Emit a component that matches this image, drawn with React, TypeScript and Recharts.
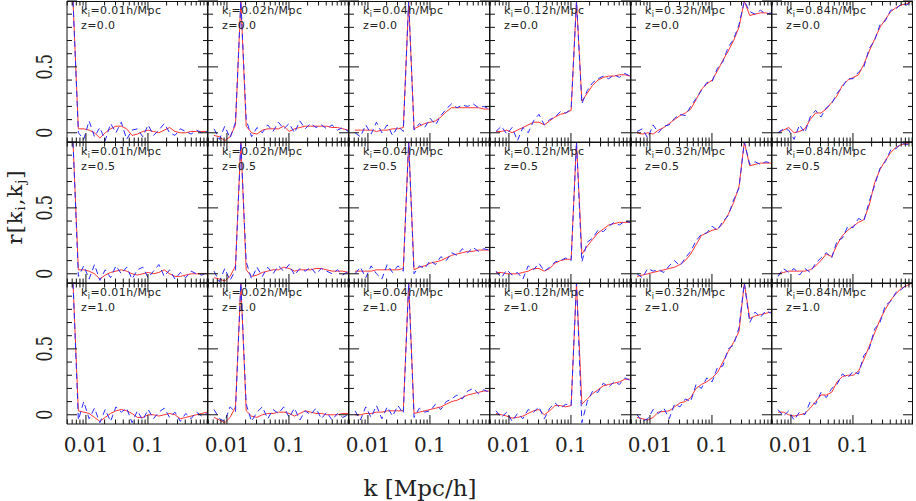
import React from 'react';
import { LineChart, Line, XAxis, YAxis } from 'recharts';

// k grid (h/Mpc), shared by all panels
const K = [0.00619, 0.00755, 0.00922, 0.01125, 0.01373, 0.01676, 0.02045, 0.02496, 0.03047, 0.03719, 0.04539, 0.0554, 0.0676, 0.0825, 0.1007, 0.1229, 0.150, 0.183, 0.2235, 0.2728, 0.333, 0.4064, 0.496, 0.6054, 0.739, 0.902];

const KI_LABELS = ['0.01', '0.02', '0.04', '0.12', '0.32', '0.84'];
const Z_LABELS = ['0.0', '0.5', '1.0'];

const X_TICKS = [0.005, 0.006, 0.007, 0.008, 0.009, 0.01, 0.02, 0.03, 0.04, 0.05, 0.06, 0.07, 0.08, 0.09, 0.1, 0.2, 0.3, 0.4, 0.5, 0.6, 0.7, 0.8, 0.9];
const X_MAJOR = [0.01, 0.1];
const X_TICK_LABELS = ['0.01', '0.1'];
const Y_TICKS = [0, 0.1, 0.2, 0.3, 0.4, 0.5, 0.6, 0.7, 0.8, 0.9, 1.0];
const Y_MAJOR = [0, 0.5, 1.0];
const Y_TICK_LABELS = ['0', '0.5'];

// z = 0.0
const red_z0_1 = [1.0, 0.03, 0.03, 0.02, 0.0, -0.04, 0.0, 0.03, 0.05, 0.05, 0.03, -0.02, -0.01, 0.01, 0.02, 0.01, 0.0, 0.02, 0.04, 0.01, 0.0, 0.0, 0.01, 0.01, 0.01, 0.01];
const blue_z0_1 = [1.0, 0.0, -0.05, 0.09, -0.03, 0.04, -0.06, 0.07, 0.0, 0.08, -0.05, 0.02, 0.03, -0.03, 0.06, -0.02, 0.02, 0.07, 0.0, -0.02, 0.03, 0.01, -0.01, 0.02, 0.0, 0.01];
const red_z0_2 = [-0.02, -0.03, -0.06, -0.03, 0.06, 1.0, 0.05, 0.0, -0.01, 0.02, 0.03, 0.03, 0.03, 0.05, 0.01, 0.03, 0.04, 0.05, 0.05, 0.05, 0.05, 0.05, 0.04, 0.04, 0.03, 0.02];
const blue_z0_2 = [0.03, -0.05, 0.05, -0.04, 0.08, 1.0, 0.1, -0.03, 0.04, 0.0, 0.06, 0.01, 0.08, 0.03, 0.07, 0.0, 0.09, 0.03, 0.07, 0.04, 0.06, 0.03, 0.06, 0.02, 0.04, 0.01];
const red_z0_3 = [0.02, 0.02, 0.02, 0.02, 0.01, 0.02, 0.02, 0.03, 0.03, 0.04, 1.0, 0.03, 0.05, 0.07, 0.08, 0.09, 0.12, 0.16, 0.19, 0.19, 0.19, 0.19, 0.19, 0.19, 0.18, 0.18];
const blue_z0_3 = [0.0, -0.03, 0.06, -0.01, 0.08, 0.0, 0.06, -0.02, 0.05, 0.01, 1.0, 0.02, 0.07, 0.04, 0.11, 0.06, 0.13, 0.18, 0.22, 0.19, 0.21, 0.2, 0.22, 0.19, 0.2, 0.18];
const red_z0_4 = [0.01, 0.01, 0.02, 0.0, 0.02, 0.04, 0.06, 0.08, 0.08, 0.06, 0.09, 0.12, 0.14, 0.15, 0.17, 1.0, 0.24, 0.3, 0.36, 0.4, 0.42, 0.43, 0.43, 0.44, 0.44, 0.43];
const blue_z0_4 = [0.01, 0.05, -0.01, 0.04, -0.06, 0.04, 0.0, 0.09, 0.14, 0.06, 0.1, 0.12, 0.16, 0.15, 0.18, 1.0, 0.22, 0.32, 0.38, 0.41, 0.43, 0.41, 0.44, 0.42, 0.45, 0.43];
const red_z0_5 = [0.0, -0.01, 0.0, -0.01, 0.02, 0.04, 0.07, 0.1, 0.13, 0.15, 0.18, 0.25, 0.33, 0.37, 0.4, 0.47, 0.55, 0.62, 0.7, 0.8, 1.0, 0.89, 0.9, 0.91, 0.91, 0.9];
const blue_z0_5 = [0.01, 0.03, -0.04, 0.06, 0.0, 0.05, 0.06, 0.11, 0.14, 0.13, 0.2, 0.26, 0.32, 0.38, 0.39, 0.49, 0.54, 0.65, 0.71, 0.82, 1.0, 0.92, 0.9, 0.93, 0.9, 0.91];
const red_z0_6 = [0.0, 0.02, 0.04, 0.0, 0.01, 0.03, 0.1, 0.15, 0.15, 0.18, 0.23, 0.28, 0.36, 0.4, 0.42, 0.44, 0.52, 0.62, 0.71, 0.8, 0.86, 0.92, 0.95, 0.97, 0.98, 1.0];
const blue_z0_6 = [0.0, 0.03, 0.02, -0.05, 0.06, 0.0, 0.12, 0.17, 0.12, 0.19, 0.22, 0.3, 0.35, 0.41, 0.41, 0.46, 0.5, 0.64, 0.7, 0.82, 0.85, 0.93, 0.94, 0.98, 0.97, 1.0];

// z = 0.5
const red_z05_1 = [1.0, 0.03, 0.03, 0.02, 0.0, -0.04, -0.01, 0.01, 0.02, 0.03, 0.02, 0.0, -0.01, 0.0, 0.01, 0.0, 0.01, 0.03, 0.0, -0.02, -0.02, -0.01, 0.0, 0.0, 0.0, 0.0];
const blue_z05_1 = [1.0, -0.02, 0.06, -0.04, 0.07, -0.05, 0.03, -0.03, 0.06, 0.0, 0.05, -0.04, 0.03, 0.05, -0.03, 0.02, 0.07, -0.02, 0.03, -0.04, 0.01, -0.03, 0.02, 0.0, -0.01, 0.01];
const red_z05_2 = [-0.03, -0.04, -0.055, -0.02, 0.06, 1.0, 0.03, -0.02, -0.01, 0.01, 0.02, 0.03, 0.03, 0.05, 0.04, 0.02, 0.03, 0.03, 0.03, 0.04, 0.04, 0.03, 0.02, 0.02, 0.02, 0.01];
const blue_z05_2 = [0.02, -0.06, 0.04, -0.05, 0.03, 1.0, 0.09, -0.04, 0.05, -0.02, 0.05, 0.0, 0.06, 0.02, 0.07, -0.01, 0.04, 0.02, 0.05, 0.0, 0.04, 0.02, 0.0, 0.03, -0.01, 0.02];
const red_z05_3 = [0.02, 0.02, 0.02, 0.02, 0.03, 0.03, 0.03, 0.03, 0.03, 0.04, 1.0, 0.03, 0.05, 0.06, 0.08, 0.09, 0.1, 0.12, 0.14, 0.15, 0.16, 0.17, 0.17, 0.18, 0.18, 0.18];
const blue_z05_3 = [0.0, 0.05, -0.03, 0.06, 0.0, -0.04, 0.07, 0.01, 0.06, 0.02, 1.0, 0.0, 0.06, 0.04, 0.1, 0.07, 0.13, 0.1, 0.16, 0.14, 0.19, 0.16, 0.2, 0.17, 0.19, 0.18];
const red_z05_4 = [0.01, 0.01, 0.0, 0.0, 0.0, 0.01, 0.02, 0.04, 0.04, 0.02, 0.04, 0.08, 0.1, 0.11, 0.11, 1.0, 0.15, 0.21, 0.26, 0.31, 0.34, 0.37, 0.38, 0.39, 0.39, 0.39];
const blue_z05_4 = [0.02, -0.03, 0.03, -0.01, 0.01, -0.04, 0.06, 0.03, 0.08, 0.02, 0.05, 0.09, 0.1, 0.12, 0.1, 1.0, 0.09, 0.24, 0.27, 0.33, 0.32, 0.36, 0.39, 0.37, 0.4, 0.39];
const red_z05_5 = [-0.02, -0.01, 0.0, 0.01, 0.02, 0.03, 0.04, 0.05, 0.07, 0.1, 0.15, 0.22, 0.29, 0.31, 0.33, 0.34, 0.38, 0.45, 0.54, 0.66, 1.0, 0.82, 0.83, 0.84, 0.84, 0.84];
const blue_z05_5 = [0.0, -0.03, 0.04, 0.02, 0.03, 0.01, 0.06, 0.1, 0.06, 0.12, 0.17, 0.25, 0.3, 0.31, 0.36, 0.33, 0.4, 0.44, 0.56, 0.65, 1.0, 0.83, 0.85, 0.83, 0.85, 0.84];
const red_z05_6 = [0.0, 0.01, 0.02, 0.02, 0.02, 0.02, 0.03, 0.06, 0.1, 0.15, 0.13, 0.22, 0.29, 0.33, 0.36, 0.39, 0.41, 0.52, 0.69, 0.79, 0.86, 0.92, 0.96, 0.98, 0.99, 1.0];
const blue_z05_6 = [-0.02, 0.04, 0.01, 0.04, -0.01, 0.04, 0.01, 0.08, 0.12, 0.16, 0.12, 0.25, 0.27, 0.36, 0.35, 0.42, 0.4, 0.55, 0.67, 0.8, 0.85, 0.94, 0.95, 0.99, 0.98, 1.0];

// z = 1.0
const red_z1_1 = [1.0, 0.03, 0.02, 0.01, -0.02, -0.05, -0.02, 0.01, 0.03, 0.04, 0.03, 0.01, -0.02, -0.02, 0.0, 0.0, -0.01, 0.0, 0.01, 0.0, -0.03, -0.02, -0.01, 0.0, 0.01, 0.02];
const blue_z1_1 = [1.0, -0.04, 0.1, -0.03, 0.05, -0.06, 0.04, -0.05, 0.06, 0.02, 0.05, -0.06, 0.03, -0.04, 0.04, -0.03, 0.02, 0.05, -0.02, 0.02, -0.05, 0.01, -0.03, 0.02, -0.01, 0.01];
const red_z1_2 = [-0.02, -0.04, -0.06, -0.02, 0.06, 1.0, 0.03, -0.01, -0.02, 0.0, 0.01, 0.01, 0.02, 0.02, 0.01, -0.01, 0.01, 0.03, 0.02, 0.01, 0.01, 0.0, 0.0, 0.0, 0.01, 0.01];
const blue_z1_2 = [0.04, -0.03, -0.05, 0.06, 0.02, 1.0, 0.08, -0.05, 0.02, 0.06, -0.03, 0.04, 0.01, 0.06, -0.02, 0.05, -0.04, 0.03, 0.0, 0.05, -0.03, 0.02, -0.04, 0.01, -0.02, 0.0];
const red_z1_3 = [0.0, 0.0, 0.01, 0.01, 0.02, 0.02, 0.03, 0.03, 0.03, 0.03, 1.0, 0.01, 0.02, 0.03, 0.04, 0.05, 0.06, 0.08, 0.1, 0.11, 0.13, 0.15, 0.16, 0.17, 0.18, 0.18];
const blue_z1_3 = [0.03, -0.04, 0.06, -0.02, 0.07, -0.03, 0.06, -0.01, 0.07, 0.01, 1.0, -0.02, 0.05, 0.02, 0.03, 0.08, 0.04, 0.1, 0.12, 0.15, 0.12, 0.18, 0.2, 0.16, 0.19, 0.17];
const red_z1_4 = [0.01, 0.0, -0.01, -0.025, -0.02, -0.01, 0.01, 0.03, 0.04, 0.0, 0.03, 0.07, 0.07, 0.06, 0.07, 1.0, 0.08, 0.12, 0.16, 0.19, 0.22, 0.23, 0.24, 0.25, 0.27, 0.27];
const blue_z1_4 = [0.03, -0.02, 0.02, -0.05, 0.01, -0.03, 0.04, 0.02, 0.06, -0.03, 0.05, 0.09, 0.05, 0.08, 0.07, 1.0, -0.06, 0.1, 0.18, 0.17, 0.24, 0.21, 0.25, 0.23, 0.28, 0.26];
const red_z1_5 = [-0.02, -0.03, -0.04, -0.02, 0.02, 0.025, 0.03, 0.06, 0.09, 0.1, 0.13, 0.2, 0.23, 0.25, 0.28, 0.32, 0.4, 0.48, 0.55, 0.63, 1.0, 0.73, 0.75, 0.76, 0.77, 0.78];
const blue_z1_5 = [0.0, -0.05, -0.03, 0.04, 0.01, 0.05, -0.03, 0.08, 0.06, 0.12, 0.1, 0.23, 0.2, 0.28, 0.25, 0.36, 0.37, 0.5, 0.53, 0.66, 1.0, 0.7, 0.78, 0.74, 0.79, 0.77];
const red_z1_6 = [0.02, 0.02, 0.0, -0.01, 0.0, 0.01, 0.05, 0.1, 0.15, 0.15, 0.17, 0.25, 0.29, 0.3, 0.3, 0.33, 0.42, 0.52, 0.62, 0.72, 0.8, 0.87, 0.92, 0.96, 0.98, 1.0];
const blue_z1_6 = [0.04, -0.01, 0.03, -0.04, 0.02, 0.0, 0.1, 0.08, 0.17, 0.13, 0.2, 0.23, 0.31, 0.28, 0.33, 0.31, 0.45, 0.5, 0.65, 0.7, 0.83, 0.86, 0.93, 0.95, 0.99, 1.0];

const RED = [
  [red_z0_1, red_z0_2, red_z0_3, red_z0_4, red_z0_5, red_z0_6],
  [red_z05_1, red_z05_2, red_z05_3, red_z05_4, red_z05_5, red_z05_6],
  [red_z1_1, red_z1_2, red_z1_3, red_z1_4, red_z1_5, red_z1_6],
];
const BLUE = [
  [blue_z0_1, blue_z0_2, blue_z0_3, blue_z0_4, blue_z0_5, blue_z0_6],
  [blue_z05_1, blue_z05_2, blue_z05_3, blue_z05_4, blue_z05_5, blue_z05_6],
  [blue_z1_1, blue_z1_2, blue_z1_3, blue_z1_4, blue_z1_5, blue_z1_6],
];

const W = 141;
const H = 141;
const LEFTS = [67, 208, 349, 490, 631, 772];
const TOPS = [1, 142, 283];
const X_DOMAIN = [0.00495, 0.93];
const Y_DOMAIN = [-0.07, 1.0];
const AX = '#111';
const SERIF = "'DejaVu Serif', serif";

const XTick = (props: any) => {
  const { x, y, payload, showLabel } = props;
  const v = payload.value;
  const mi = X_MAJOR.indexOf(v);
  const len = mi >= 0 ? 9 : 4.5;
  return (
    <g>
      <line x1={x} x2={x} y1={y} y2={y - len} stroke={AX} strokeWidth={1} />
      <line x1={x} x2={x} y1={y - H} y2={y - H + len} stroke={AX} strokeWidth={1} />
      {showLabel && mi >= 0 && (
        <text x={x} y={y + 28} textAnchor="middle" fontFamily={SERIF} fontSize={20} fill="#222">
          {X_TICK_LABELS[mi]}
        </text>
      )}
    </g>
  );
};

const YTick = (props: any) => {
  const { x, y, payload, showLabel } = props;
  const v = payload.value;
  const li = Y_MAJOR.indexOf(v);
  const len = li >= 0 ? 10 : 5;
  return (
    <g>
      <line x1={x} x2={x + len} y1={y} y2={y} stroke={AX} strokeWidth={1} />
      <line x1={x + W} x2={x + W - len} y1={y} y2={y} stroke={AX} strokeWidth={1} />
      {showLabel && li >= 0 && li < Y_TICK_LABELS.length && (
        <text
          transform={`translate(${x - 23},${y}) scale(1.35,1) rotate(-90)`}
          textAnchor="middle"
          dominantBaseline="central"
          fontFamily={SERIF}
          fontSize={16}
          fill="#222"
        >
          {Y_TICK_LABELS[li]}
        </text>
      )}
    </g>
  );
};

const Panel = ({ row, col }: { row: number; col: number }) => {
  const red = RED[row][col];
  const blue = BLUE[row][col];
  const data = K.map((k, i) => ({ k, red: red[i], blue: blue[i] }));
  return (
    <div style={{ position: 'absolute', left: LEFTS[col] - 1, top: TOPS[row], width: W + 1, height: H + 1 }}>
      <LineChart width={W + 1} height={H + 1} data={data} margin={{ top: 0, right: 0, bottom: 0, left: 0 }}>
        <XAxis
          dataKey="k"
          type="number"
          scale="log"
          domain={X_DOMAIN}
          allowDataOverflow
          ticks={X_TICKS}
          interval={0}
          height={1}
          tickSize={0}
          tickMargin={0}
          tickLine={false}
          axisLine={{ stroke: AX, strokeWidth: 1 }}
          tick={(p: any) => <XTick {...p} showLabel={row === 2} />}
        />
        <YAxis
          type="number"
          domain={Y_DOMAIN}
          allowDataOverflow
          ticks={Y_TICKS}
          interval={0}
          width={1}
          tickSize={0}
          tickMargin={0}
          tickLine={false}
          axisLine={{ stroke: AX, strokeWidth: 1 }}
          tick={(p: any) => <YTick {...p} showLabel={col === 0} />}
        />
        <Line dataKey="red" stroke="#ff3333" strokeWidth={1} dot={false} isAnimationActive={false} />
        <Line dataKey="blue" stroke="#2a2aff" strokeWidth={1} strokeDasharray="6 4" dot={false} isAnimationActive={false} />
      </LineChart>
      <div
        style={{
          position: 'absolute', left: 1, top: 0, width: W, height: H,
          borderTop: `1px solid ${AX}`, borderRight: `1px solid ${AX}`, boxSizing: 'border-box',
          pointerEvents: 'none',
        }}
      />
      <div style={{ position: 'absolute', left: 15, top: 3, fontFamily: "'DejaVu Sans', sans-serif", fontSize: 11, letterSpacing: 0.4, lineHeight: '14px', color: '#222', whiteSpace: 'nowrap' }}>
        <div>
          k<span style={{ fontSize: 8, position: 'relative', top: 3 }}>i</span>={KI_LABELS[col]}h/Mpc
        </div>
        <div>z={Z_LABELS[row]}</div>
      </div>
    </div>
  );
};

export default function App() {
  const rows = [0, 1, 2];
  const cols = [0, 1, 2, 3, 4, 5];
  return (
    <div style={{ position: 'absolute', left: 0, top: 0, width: 916, height: 501, background: '#fff', overflow: 'hidden' }}>
      <style>{'.recharts-surface{overflow:visible}'}</style>
      {rows.map((r) => cols.map((c) => <Panel key={`${r}-${c}`} row={r} col={c} />))}
      <svg width={916} height={501} style={{ position: 'absolute', left: 0, top: 0, pointerEvents: 'none' }}>
        <text
          transform="translate(15,207) rotate(-90)"
          textAnchor="middle"
          dominantBaseline="central"
          fontFamily={SERIF}
          fontSize={21}
          letterSpacing={1}
          fill="#222"
        >
          r[k<tspan fontSize={13} dy={5}>i</tspan><tspan dy={-5}>,k</tspan><tspan fontSize={13} dy={5}>j</tspan><tspan dy={-5}>]</tspan>
        </text>
        <text x={420} y={496} textAnchor="middle" fontFamily={SERIF} fontSize={23} fill="#222">
          k [Mpc/h]
        </text>
      </svg>
    </div>
  );
}
